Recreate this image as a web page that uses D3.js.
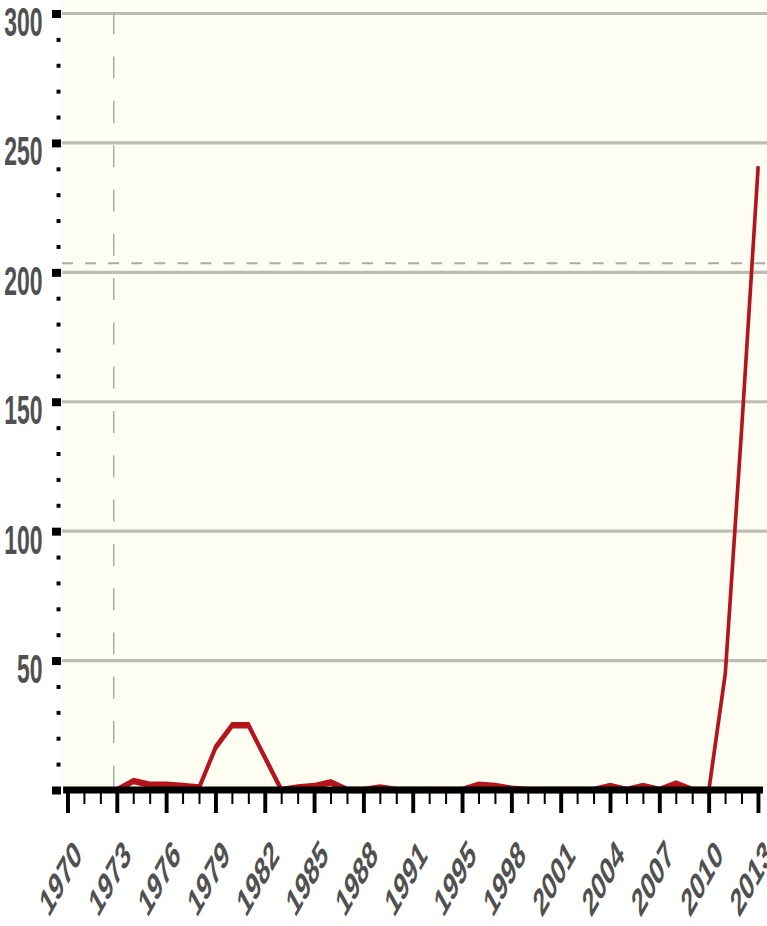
<!DOCTYPE html>
<html>
<head>
<meta charset="utf-8">
<script src="https://cdn.jsdelivr.net/npm/d3@7"></script>
<style>
  html, body { margin: 0; padding: 0; background: #ffffff; }
  svg { display: block; }
</style>
</head>
<body>
<script>
// Yearly series (1993 has no entry in the source table)
const years = [1970, 1971, 1972, 1973, 1974, 1975, 1976, 1977, 1978, 1979,
               1980, 1981, 1982, 1983, 1984, 1985, 1986, 1987, 1988, 1989,
               1990, 1991, 1992, 1994, 1995, 1996, 1997, 1998, 1999, 2000,
               2001, 2002, 2003, 2004, 2005, 2006, 2007, 2008, 2009, 2010,
               2011, 2012, 2013];
const values = [null, null, null, 0, 3.5, 2, 2, 1.5, 1, 16.5,
                25, 25, 12.5, 0, 1, 1.5, 3, 0, 0, 1,
                0, 0, 0, 0, 0, 2, 1.5, 0.5, 0, 0,
                0, 0, 0, 1.5, 0, 1.5, 0, 2.5, 0, 0,
                45, 140, 241];

// Axis ticks
const xLabelYears = [1970, 1973, 1976, 1979, 1982, 1985, 1988, 1991, 1995, 1998, 2001, 2004, 2007, 2010, 2013];
const yMajorTicks = [0, 50, 100, 150, 200, 250, 300];
const yMinorTicks = [10, 20, 30, 40, 60, 70, 80, 90, 110, 120, 130, 140, 160, 170, 180, 190,
                     210, 220, 230, 240, 260, 270, 280, 290];

// Reference lines
const thresholdValue = 203.5;   // dashed horizontal level
const referenceYear = 1972.8;   // dashed vertical marker

const W = 767, H = 926;
const SX = 0.56;                // horizontal compression of the whole drawing
const VW = W / SX;              // drawing width in compressed units

const plotLeft = 110.7, plotTop = 0, plotBottom = 790;

const x = d3.scalePoint().domain(years).range([120.9, 1353.9]);
const y = d3.scaleLinear().domain([0, 300]).range([790, 13.5]);

const data = years.map((yr, i) => ({ year: yr, v: values[i] }));

const svg = d3.select("body").append("svg")
  .attr("width", W).attr("height", H);

const g = svg.append("g").attr("transform", `scale(${SX},1)`);

// plot background
g.append("rect")
  .attr("x", plotLeft).attr("y", plotTop)
  .attr("width", VW - plotLeft).attr("height", plotBottom - plotTop)
  .attr("fill", "#fefdf2");

// horizontal gridlines
g.append("g").selectAll("line")
  .data(yMajorTicks.filter(d => d > 0))
  .join("line")
  .attr("x1", plotLeft).attr("x2", VW)
  .attr("y1", d => y(d)).attr("y2", d => y(d))
  .attr("stroke", "#bdbdb5").attr("stroke-width", 3.2);

// dashed vertical marker
const i0 = years.indexOf(Math.floor(referenceYear));
const refX = x(years[i0]) + (referenceYear - years[i0]) * x.step();
g.append("line")
  .attr("x1", refX).attr("x2", refX)
  .attr("y1", -32).attr("y2", plotBottom)
  .attr("stroke", "#ababab").attr("stroke-width", 2.7)
  .attr("stroke-dasharray", "22,22.3");

// dashed horizontal level
g.append("line")
  .attr("x1", plotLeft).attr("x2", VW)
  .attr("y1", y(thresholdValue)).attr("y2", y(thresholdValue))
  .attr("stroke", "#ababab").attr("stroke-width", 2.2)
  .attr("stroke-dasharray", "19.6,21.6");

// data line
const line = d3.line()
  .defined(d => d.v != null)
  .x(d => x(d.year))
  .y(d => y(d.v));

g.append("path")
  .datum(data)
  .attr("d", line)
  .attr("fill", "none")
  .attr("stroke", "#b3141d")
  .attr("stroke-width", 6.5)
  .attr("stroke-linejoin", "miter");

const font = "'Liberation Sans', Arial, sans-serif";

// y axis: minor dots
const yMinor = g.append("g")
  .attr("transform", "translate(108,0)")
  .call(d3.axisLeft(y).tickValues(yMinorTicks).tickSize(7).tickFormat(""));
yMinor.select(".domain").remove();
yMinor.selectAll(".tick line").attr("stroke", "#000").attr("stroke-width", 4);

// y axis: major squares + labels
const yMajor = g.append("g")
  .attr("transform", "translate(108.9,0)")
  .call(d3.axisLeft(y).tickValues(yMajorTicks).tickSize(16).tickPadding(17)
        .tickFormat(d => d === 0 ? "" : d));
yMajor.select(".domain").remove();
yMajor.selectAll(".tick line").attr("stroke", "#000").attr("stroke-width", 8);
yMajor.selectAll(".tick text")
  .attr("dy", null).attr("y", 22)
  .attr("fill", "#505050").attr("font-family", font)
  .attr("font-size", 41).attr("font-weight", "bold");

// x axis: minor ticks
const xMinor = g.append("g")
  .attr("transform", `translate(0,${plotBottom})`)
  .call(d3.axisBottom(x).tickValues(years).tickSize(14).tickFormat(""));
xMinor.select(".domain").remove();
xMinor.selectAll(".tick line").attr("stroke", "#000").attr("stroke-width", 3.6);

// x axis: major ticks + rotated labels
const xMajor = g.append("g")
  .attr("transform", `translate(0,${plotBottom})`)
  .call(d3.axisBottom(x).tickValues(xLabelYears).tickSize(23));
xMajor.select(".domain").remove();
xMajor.selectAll(".tick line").attr("stroke", "#000").attr("stroke-width", 7);
xMajor.selectAll(".tick text")
  .attr("x", 0).attr("y", 0).attr("dy", null)
  .attr("text-anchor", "end")
  .attr("transform", "translate(27,67) rotate(-45)")
  .attr("fill", "#505050").attr("font-family", font)
  .attr("font-size", 39).attr("font-weight", "bold");

// x axis baseline
g.append("line")
  .attr("x1", plotLeft + 2).attr("x2", 1362.5)
  .attr("y1", plotBottom).attr("y2", plotBottom)
  .attr("stroke", "#000").attr("stroke-width", 7);
</script>
</body>
</html>
